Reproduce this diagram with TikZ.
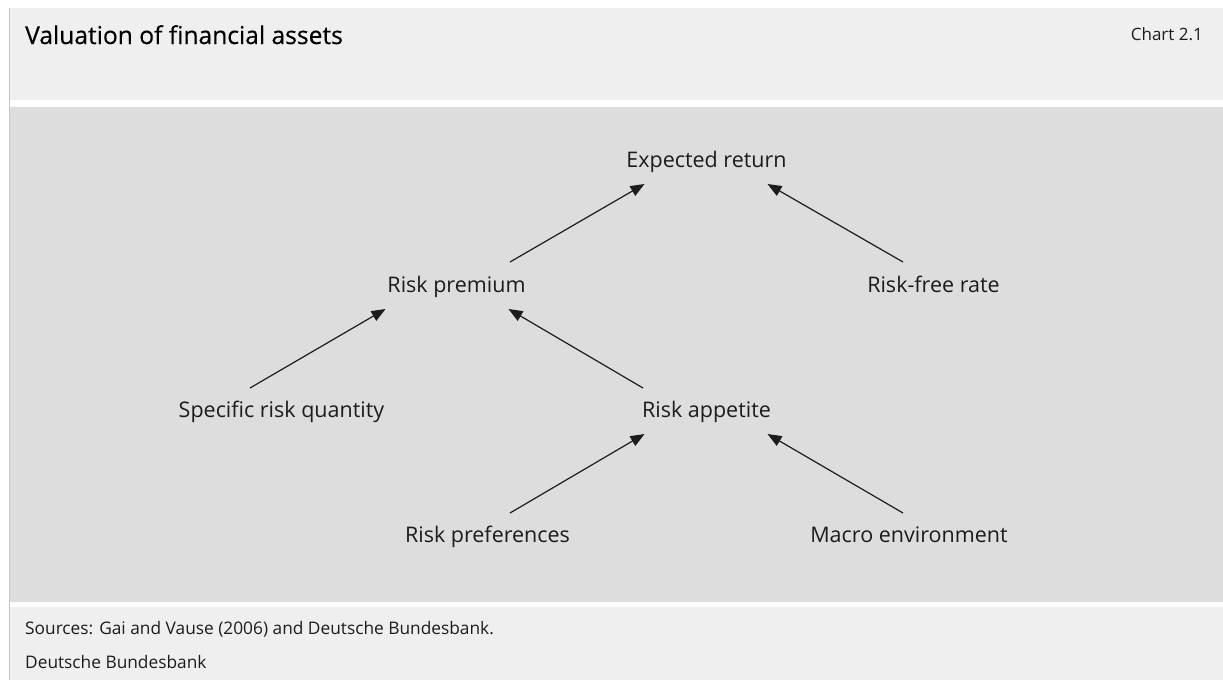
\documentclass[tikz,border=0pt]{standalone}
\usepackage{fontspec}
\setmainfont{Open Sans}
\newfontfamily\titlefont[FakeBold=0.35]{Open Sans}
\usepackage{xcolor}
\usetikzlibrary{arrows.meta}

\definecolor{panel}{HTML}{EFEFEF}
\definecolor{chartbg}{HTML}{DCDDDC}
\definecolor{edge}{HTML}{C8C8C8}
\definecolor{ink}{HTML}{1C1C1C}

\tikzset{
  lbl/.style={anchor=base, inner sep=0pt, text=ink, font=\fontsize{21.5}{24}\selectfont},
  note/.style={anchor=base west, inner sep=0pt, text=ink, font=\fontsize{17.3}{20}\selectfont},
  arr/.style={-{Triangle[length=14pt,width=11pt]}, line width=1.2pt, ink}
}

\begin{document}
\begin{tikzpicture}[x=1pt,y=-1pt]
\useasboundingbox (0,0) rectangle (1223,680);
\fill[white] (0,0) rectangle (1223,680);

% header, chart area and footer
\fill[panel] (10,8) rectangle (1223,100);
\fill[chartbg] (10,107) rectangle (1223,602);
\fill[panel] (10,607) rectangle (1223,680);
\draw[edge, line width=1.2pt] (9.4,8) -- (9.4,680);

\node[anchor=base west, inner sep=0pt, text=black, font=\titlefont\fontsize{24.6}{28}\selectfont] (title) at (25,44) {Valuation of financial assets};
\node[anchor=base east, inner sep=0pt, text=ink, font=\fontsize{17}{20}\selectfont] (chartno) at (1203,40) {Chart 2.1};

% the tree
\node[lbl] (exp) at (706.5,167) {Expected return};
\node[lbl] (prem) at (456.5,292) {Risk premium};
\node[lbl] (rf) at (933.5,292) {Risk-free rate};
\node[lbl] (qty) at (281.5,417) {Specific risk quantity};
\node[lbl] (app) at (706.5,417) {Risk appetite};
\node[lbl] (pref) at (487.5,542) {Risk preferences};
\node[lbl] (macro) at (909,542) {Macro environment};

\draw[arr] ([xshift=53.5pt,yshift=30pt]prem.base) -- ([xshift=-62pt,yshift=-17pt]exp.base);
\draw[arr] ([xshift=-30.5pt,yshift=30pt]rf.base) -- ([xshift=61pt,yshift=-17pt]exp.base);
\draw[arr] ([xshift=-31.5pt,yshift=29pt]qty.base) -- ([xshift=-71pt,yshift=-17pt]prem.base);
\draw[arr] ([xshift=-63.5pt,yshift=29pt]app.base) -- ([xshift=52pt,yshift=-17pt]prem.base);
\draw[arr] ([xshift=22.5pt,yshift=29pt]pref.base) -- ([xshift=-62pt,yshift=-17pt]app.base);
\draw[arr] ([xshift=-6pt,yshift=29pt]macro.base) -- ([xshift=61pt,yshift=-17pt]app.base);

% footer notes
\node[note] (src) at (25,634) {Sources: Gai and Vause (2006) and Deutsche Bundesbank.};
\node[note] (bank) at (25,668) {Deutsche Bundesbank};
\end{tikzpicture}
\end{document}
